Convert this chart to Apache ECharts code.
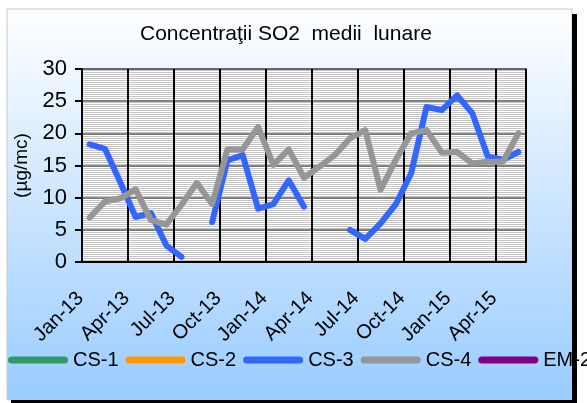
<!DOCTYPE html>
<html>
<head>
<meta charset="utf-8">
<script src="https://cdn.jsdelivr.net/npm/echarts@6/dist/echarts.min.js"></script>
<style>
html, body { margin: 0; padding: 0; background: #fff; }
#chart { width: 587px; height: 403px; }
</style>
</head>
<body>
<div id="chart"></div>
<script>
const months = [
  'Jan-13', 'Feb-13', 'Mar-13', 'Apr-13', 'May-13', 'Jun-13', 'Jul-13', 'Aug-13', 'Sep-13', 'Oct-13', 'Nov-13', 'Dec-13',
  'Jan-14', 'Feb-14', 'Mar-14', 'Apr-14', 'May-14', 'Jun-14', 'Jul-14', 'Aug-14', 'Sep-14', 'Oct-14', 'Nov-14', 'Dec-14',
  'Jan-15', 'Feb-15', 'Mar-15', 'Apr-15', 'May-15'
];
const cs1 = [];
const cs2 = [];
const cs3 = [18.3, 17.6, 12.4, 7.0, 7.6, 2.6, 0.8, null, 6.2, 15.8, 16.6, 8.3, 9.0, 12.7, 8.6,
  null, null, 5.0, 3.6, 6.0, 9.0, 13.8, 24.1, 23.6, 25.9, 23.1, 16.4, 15.9, 17.1];
const cs4 = [6.9, 9.4, 9.9, 11.3, 6.5, 5.8, 8.9, 12.3, 9.0, 17.5, 17.5, 21.0, 15.1, 17.5, 13.1,
  14.8, 16.6, 19.2, 20.5, 11.2, 15.9, 20.0, 20.5, 17.0, 17.1, 15.3, 15.6, 15.6, 20.0];
const em2 = [];
const yTicks = { min: 0, max: 30, step: 5 };

const font = "'Liberation Sans', Arial, sans-serif";

// striped fill of the plot area
const stripe = document.createElement('canvas');
stripe.width = 4;
stripe.height = 2;
const sctx = stripe.getContext('2d');
sctx.fillStyle = '#ffffff';
sctx.fillRect(0, 0, 4, 2);
sctx.fillStyle = '#c4c4c4';
sctx.fillRect(0, 0, 4, 1);

const chart = echarts.init(document.getElementById('chart'));

const makeLine = (name, data, color) => ({
  name,
  type: 'line',
  data,
  showSymbol: false,
  symbol: 'none',
  connectNulls: false,
  lineStyle: { color, width: 6, cap: 'round', join: 'round' },
  itemStyle: { color },
  emphasis: { disabled: true },
});

chart.setOption({
  animation: false,
  backgroundColor: '#ffffff',
  textStyle: { fontFamily: font },
  title: {
    text: 'Concentraţii SO2  medii  lunare',
    left: 140,
    top: 24,
    padding: 0,
    textStyle: { fontSize: 21, fontWeight: 'normal', color: '#000', fontFamily: font },
  },
  graphic: [
    {
      type: 'rect',
      z: -10,
      silent: true,
      shape: { x: 7, y: 9, width: 565, height: 391 },
      style: {
        fill: new echarts.graphic.LinearGradient(0, 0, 0, 1, [
          { offset: 0, color: '#ffffff' },
          { offset: 1, color: '#99ccff' },
        ]),
        stroke: '#c8c8c8',
        lineWidth: 1,
      },
    },
    { type: 'rect', z: 100, silent: true, shape: { x: 572, y: 14, width: 5, height: 389 }, style: { fill: '#000' } },
    { type: 'rect', z: 100, silent: true, shape: { x: 11, y: 400, width: 566, height: 3 }, style: { fill: '#000' } },
  ],
  legend: {
    left: 8,
    top: 350,
    width: 700,
    padding: 0,
    itemWidth: 60,
    itemHeight: 7,
    itemGap: 7,
    icon: 'path://M3.5,0 H56.5 A3.5,3.5 0 0 1 56.5,7 H3.5 A3.5,3.5 0 0 1 3.5,0 Z',
    textStyle: { fontSize: 20, color: '#000', fontFamily: font },
    data: ['CS-1', 'CS-2', 'CS-3', 'CS-4', 'EM-2'],
  },
  grid: {
    left: 82,
    right: 61,
    top: 69,
    bottom: 141,
    show: true,
    backgroundColor: { image: stripe, repeat: 'repeat' },
    borderColor: '#808080',
    borderWidth: 2,
  },
  xAxis: {
    type: 'category',
    data: months,
    boundaryGap: true,
    axisLine: { lineStyle: { color: '#000', width: 2 } },
    axisTick: { interval: 2, length: 6, lineStyle: { color: '#000', width: 2 } },
    axisLabel: {
      interval: 2, rotate: 45, margin: 24, padding: [0, 13, 0, 0],
      fontSize: 20, color: '#000', fontFamily: font,
    },
    splitLine: { show: true, interval: 2, lineStyle: { color: '#000', width: 2 } },
  },
  yAxis: {
    type: 'value',
    min: yTicks.min,
    max: yTicks.max,
    interval: yTicks.step,
    name: '(µg/mc)',
    nameLocation: 'middle',
    nameGap: 42,
    nameTextStyle: { fontSize: 19, color: '#000', fontFamily: font },
    axisLine: { show: true, lineStyle: { color: '#000', width: 2 } },
    axisTick: { show: true, length: 7, lineStyle: { color: '#000', width: 2 } },
    axisLabel: { fontSize: 22, margin: 15, color: '#000', fontFamily: font },
    splitLine: { show: true, lineStyle: { color: '#606060', width: 1.5 } },
  },
  series: [
    makeLine('CS-1', cs1, '#339966'),
    makeLine('CS-2', cs2, '#ff9900'),
    makeLine('CS-3', cs3, '#3366ff'),
    makeLine('CS-4', cs4, '#969696'),
    makeLine('EM-2', em2, '#800080'),
  ],
});
</script>
</body>
</html>
